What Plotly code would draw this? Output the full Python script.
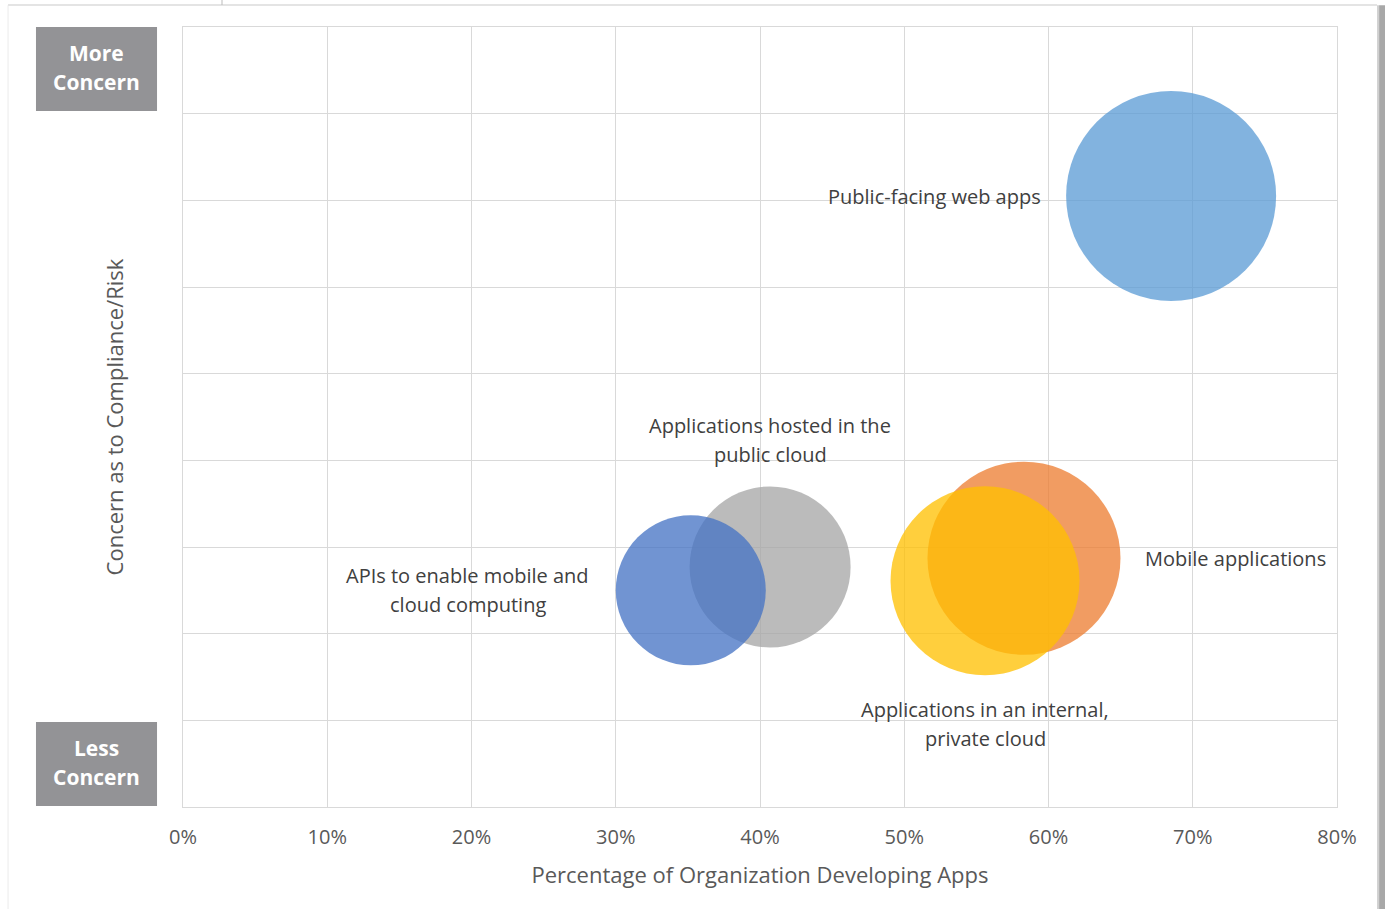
import plotly.graph_objects as go

# ---- data ----
names = ["Public-facing web apps", "Mobile applications",
         "Applications in an internal, private cloud",
         "Applications hosted in the public cloud",
         "APIs to enable mobile and cloud computing"]
pct_developing = [0.685, 0.583, 0.556, 0.407, 0.352]
concern = [7.05, 2.87, 2.61, 2.77, 2.50]
bubble_size = [2.10, 1.93, 1.89, 1.61, 1.50]
colors = ["#5B9BD5", "#ED7D31", "#FFC000", "#A5A5A5", "#4472C4"]
x_ticks = [0, 0.1, 0.2, 0.3, 0.4, 0.5, 0.6, 0.7, 0.8]
y_grid = [0, 1, 2, 3, 4, 5, 6, 7, 8, 9]
box_labels = [["More", "Concern"], ["Less", "Concern"]]

SIZEREF = 0.01
FONT = "Segoe UI, Open Sans, sans-serif"
TXT = "#404040"

fig = go.Figure()
fig.add_trace(go.Scatter(
    x=pct_developing, y=concern, mode="markers",
    marker=dict(size=bubble_size, sizemode="diameter", sizeref=SIZEREF,
                color=colors, opacity=0.76, line=dict(width=0)),
    hovertext=names, showlegend=False))

# label placement: (lines, side, gap px, yshift px)
label_specs = [
    (["Public-facing web apps"], "left", 23, 0),
    (["Mobile applications"], "right", 23, 0),
    (["Applications in an internal,", "private cloud"], "below", 0, -143),
    (["Applications hosted in the", "public cloud"], "above", 0, 127),
    (["APIs to enable mobile and", "cloud computing"], "center", -223, 0),
]
annotations = []
LINE = 29
for i, (lines, side, gap, ysh) in enumerate(label_specs):
    r = bubble_size[i] / SIZEREF / 2
    n = len(lines)
    for k, t in enumerate(lines):
        off = ((n - 1) / 2 - k) * LINE
        if side == "left":
            xa, xs = "right", -(r + gap)
        elif side == "right":
            xa, xs = "left", r + gap
        elif side == "center":
            xa, xs = "center", gap
        else:
            xa, xs = "center", 0
        annotations.append(dict(
            x=pct_developing[i], y=concern[i], xref="x", yref="y",
            text=t, showarrow=False, xanchor=xa, yanchor="middle",
            xshift=xs, yshift=ysh + off,
            font=dict(family=FONT, size=20, color=TXT)))

shapes = []
# concern boxes (paper coords)
box_x0, box_x1 = -0.1274, -0.0225
box_y = [(0.8923, 1.0), (0.00128, 0.109)]
for lines, (y0, y1) in zip(box_labels, box_y):
    shapes.append(dict(type="rect", xref="paper", yref="paper",
                       x0=box_x0, x1=box_x1, y0=y0, y1=y1,
                       fillcolor="#939396", line=dict(width=0)))
    yc = (y0 + y1) / 2
    for k, t in enumerate(lines):
        annotations.append(dict(
            x=(box_x0 + box_x1) / 2, y=yc, xref="paper", yref="paper",
            text="<b>" + t + "</b>", showarrow=False, xanchor="center",
            yanchor="middle", yshift=(16 if k == 0 else -13),
            font=dict(family=FONT, size=21, color="white")))

shapes += [
    # card shadow on the right
    dict(type="rect", xref="paper", yref="paper", x0=1.0347, x1=1.0365,
         y0=-0.2, y1=1.028, fillcolor="#d0d0d0", line=dict(width=0), layer="below"),
    dict(type="rect", xref="paper", yref="paper", x0=1.0365, x1=1.042,
         y0=-0.2, y1=1.028, fillcolor="#a8a8a8", line=dict(width=0), layer="below"),
    # card edges
    dict(type="line", xref="paper", yref="paper", x0=-0.1516, x1=-0.1516,
         y0=-0.2, y1=1.028, line=dict(color="#ececec", width=1), layer="below"),
    dict(type="line", xref="paper", yref="paper", x0=-0.1516, x1=1.0347,
         y0=1.0282, y1=1.0282, line=dict(color="#e4e4e4", width=2), layer="below"),
    dict(type="line", xref="paper", yref="paper", x0=0.0338, x1=0.0338,
         y0=1.0282, y1=1.05, line=dict(color="#bbbbbb", width=1), layer="below"),
]

fig.update_layout(
    width=1385, height=909,
    margin=dict(l=183, r=48, t=27, b=102),
    paper_bgcolor="white", plot_bgcolor="white",
    font=dict(family=FONT, color="#595959"),
    annotations=annotations, shapes=shapes,
    xaxis=dict(range=[0, 0.8], tickvals=x_ticks, tickformat=".0%",
               showgrid=True, gridcolor="#d9d9d9", gridwidth=1,
               zeroline=False, showline=True, linecolor="#d9d9d9", mirror=True,
               ticks="", ticklabelstandoff=12,
               tickfont=dict(size=20, color="#595959", family=FONT),
               title=dict(text="Percentage of Organization Developing Apps",
                          font=dict(size=22, color="#595959", family=FONT), standoff=18)),
    yaxis=dict(range=[0, 9], tickvals=y_grid, showticklabels=False,
               showgrid=True, gridcolor="#d9d9d9", gridwidth=1,
               zeroline=False, showline=True, linecolor="#d9d9d9", mirror=True,
               ticks="",
               title=dict(text="Concern as to Compliance/Risk",
                          font=dict(size=22, color="#595959", family=FONT), standoff=52)),
)

fig.write_html("out.html", config={"displayModeBar": False},
               post_script="document.body.style.margin='0';document.body.style.overflow='hidden';")
